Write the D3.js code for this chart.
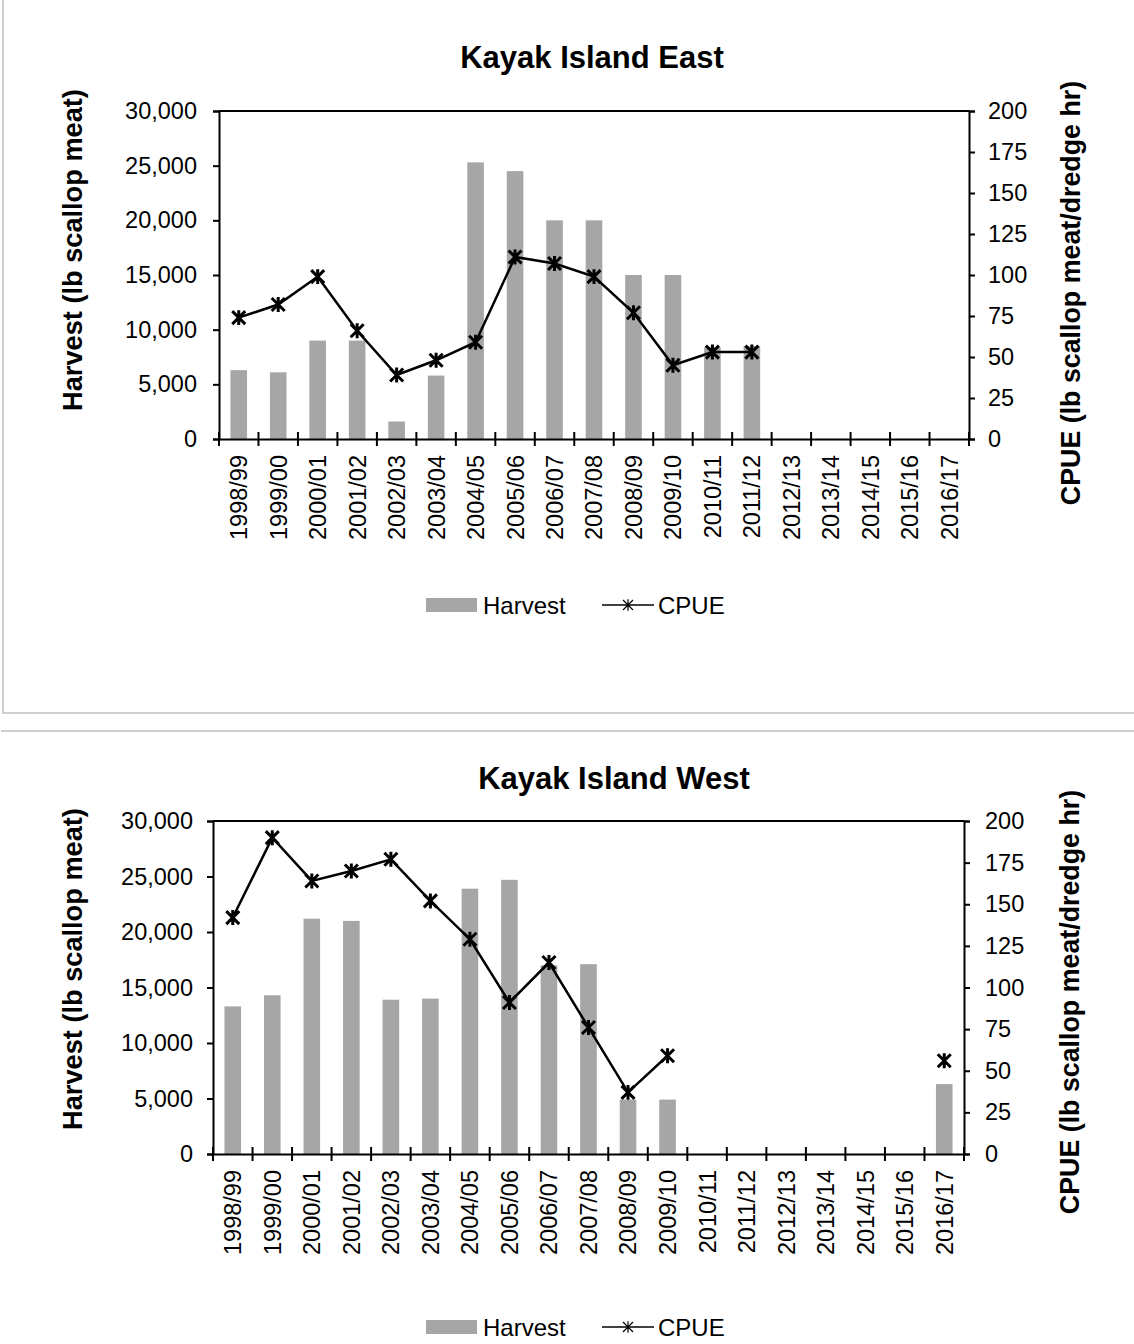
<!DOCTYPE html>
<html>
<head>
<meta charset="utf-8">
<script src="https://cdn.jsdelivr.net/npm/d3@7"></script>
<style>
  html, body { margin: 0; padding: 0; background: #fff; }
  svg { display: block; }
  text { font-family: "Liberation Sans", Arial, sans-serif; fill: #000; }
</style>
</head>
<body>
<svg id="chart" width="1134" height="1344"></svg>
<script>
// ---- Data ----
const seasons = ["1998/99","1999/00","2000/01","2001/02","2002/03","2003/04","2004/05","2005/06","2006/07","2007/08","2008/09","2009/10","2010/11","2011/12","2012/13","2013/14","2014/15","2015/16","2016/17"];

const eastTitle = "Kayak Island East";
const eastHarvest = [6300, 6100, 9000, 9000, 1600, 5800, 25300, 24500, 20000, 20000, 15000, 15000, 8400, 8500, null, null, null, null, null];
const eastCPUE    = [74, 82, 99, 66, 39, 48, 59, 111, 107, 99, 77, 45, 53, 53, null, null, null, null, null];

const westTitle = "Kayak Island West";
const westHarvest = [13300, 14300, 21200, 21000, 13900, 14000, 23900, 24700, 17000, 17100, 4900, 4900, null, null, null, null, null, null, 6300];
const westCPUE    = [142, 190, 164, 170, 177, 152, 129, 91, 115, 76, 37, 59, null, null, null, null, null, null, 56];

const harvestTicks = [0, 5000, 10000, 15000, 20000, 25000, 30000];
const cpueTicks = [0, 25, 50, 75, 100, 125, 150, 175, 200];

const leftAxisTitle = "Harvest (lb scallop meat)";
const rightAxisTitle = "CPUE (lb scallop meat/dredge hr)";
const legendLabels = ["Harvest", "CPUE"];

// ---- Drawing ----
const svg = d3.select("#chart");
const BAR = "#a6a6a6";

// panel borders
svg.append("path").attr("d", "M3,0 V713 H1134").attr("fill", "none").attr("stroke", "#c0c0c0").attr("stroke-width", 1.5);
svg.append("line").attr("x1", 1).attr("x2", 1134).attr("y1", 731).attr("y2", 731).attr("stroke", "#c0c0c0").attr("stroke-width", 1.5);

function star(g, x, y, r, sw) {
  const p = d3.path();
  p.moveTo(x - r, y - r); p.lineTo(x + r, y + r);
  p.moveTo(x - r, y + r); p.lineTo(x + r, y - r);
  p.moveTo(x, y - r * 1.15); p.lineTo(x, y + r * 1.15);
  g.append("path").attr("d", p.toString()).attr("stroke", "#000").attr("stroke-width", sw).attr("fill", "none");
}

function drawChart(cfg) {
  const g = svg.append("g");
  const xb = d3.scaleBand().domain(seasons).range([cfg.left, cfg.right]);
  const yL = d3.scaleLinear().domain([0, 30000]).range([cfg.bottom, cfg.top]);
  const yR = d3.scaleLinear().domain([0, 200]).range([cfg.bottom, cfg.top]);

  // title
  g.append("text").attr("x", cfg.titleX).attr("y", cfg.titleY)
    .attr("text-anchor", "middle").attr("font-weight", "bold").attr("font-size", 31)
    .text(cfg.title);

  // bars
  const hd = seasons.map((s, i) => ({ s, v: cfg.harvest[i] })).filter(d => d.v != null);
  g.selectAll("rect.bar").data(hd).join("rect").attr("class", "bar")
    .attr("x", d => xb(d.s) + xb.bandwidth() / 2 - 8.3)
    .attr("width", 16.6)
    .attr("y", d => yL(d.v))
    .attr("height", d => yL(0) - yL(d.v))
    .attr("fill", BAR);

  // plot frame (top)
  g.append("line").attr("x1", cfg.left).attr("x2", cfg.right).attr("y1", cfg.top).attr("y2", cfg.top)
    .attr("stroke", "#000").attr("stroke-width", 2);

  // left axis
  const axL = g.append("g").attr("transform", `translate(${cfg.left},0)`)
    .call(d3.axisLeft(yL).tickValues(harvestTicks).tickFormat(d3.format(",")).tickSize(6).tickPadding(cfg.lPad));
  axL.select(".domain").attr("stroke-width", 2);
  axL.selectAll(".tick line").attr("stroke-width", 2);
  axL.selectAll("text").attr("font-size", 23.5).attr("font-family", "Liberation Sans, Arial, sans-serif");

  // right axis
  const axR = g.append("g").attr("transform", `translate(${cfg.right},0)`)
    .call(d3.axisRight(yR).tickValues(cpueTicks).tickSize(6).tickPadding(cfg.rPad));
  axR.select(".domain").attr("stroke-width", 2);
  axR.selectAll(".tick line").attr("stroke-width", 2);
  axR.selectAll("text").attr("font-size", 23.5).attr("font-family", "Liberation Sans, Arial, sans-serif");

  // bottom axis
  const axB = g.append("g").attr("transform", `translate(0,${cfg.bottom})`)
    .call(d3.axisBottom(xb).tickSize(0).tickPadding(0));
  axB.select(".domain").attr("stroke-width", 2);
  axB.selectAll(".tick line").remove();
  axB.selectAll(".tick text")
    .attr("font-size", 23.5).attr("font-family", "Liberation Sans, Arial, sans-serif")
    .attr("transform", "rotate(-90)")
    .attr("text-anchor", "end")
    .attr("x", -16).attr("y", 0).attr("dy", "0.36em");
  // boundary ticks crossing the axis
  const bounds = seasons.map(s => xb(s)).concat([cfg.right]);
  g.selectAll("line.xt").data(bounds).join("line").attr("class", "xt")
    .attr("x1", d => d).attr("x2", d => d)
    .attr("y1", cfg.bottom - 7).attr("y2", cfg.bottom + 7)
    .attr("stroke", "#000").attr("stroke-width", 2);

  // CPUE line
  const cd = seasons.map((s, i) => ({ s, v: cfg.cpue[i] }));
  const line = d3.line().defined(d => d.v != null)
    .x(d => xb(d.s) + xb.bandwidth() / 2).y(d => yR(d.v));
  g.append("path").datum(cd).attr("d", line).attr("fill", "none").attr("stroke", "#000").attr("stroke-width", 2.5);
  cd.filter(d => d.v != null).forEach(d => star(g, xb(d.s) + xb.bandwidth() / 2, yR(d.v), 6.5, 3));

  // axis titles
  g.append("text").attr("transform", `translate(${cfg.lTitleX},${cfg.lTitleY}) rotate(-90)`)
    .attr("text-anchor", "middle").attr("dy", "0.35em").attr("font-weight", "bold").attr("font-size", 27.2)
    .text(leftAxisTitle);
  g.append("text").attr("transform", `translate(${cfg.rTitleX},${cfg.rTitleY}) rotate(-90)`)
    .attr("text-anchor", "middle").attr("dy", "0.35em").attr("font-weight", "bold").attr("font-size", 26.8)
    .text(rightAxisTitle);

  // legend
  const ly = cfg.legendY;
  g.append("rect").attr("x", 426).attr("y", ly - 7).attr("width", 51).attr("height", 14).attr("fill", BAR);
  g.append("text").attr("x", 483).attr("y", ly).attr("dy", "0.36em").attr("font-size", 24).text(legendLabels[0]);
  g.append("line").attr("x1", 602).attr("x2", 654).attr("y1", ly).attr("y2", ly).attr("stroke", "#000").attr("stroke-width", 1.5);
  star(g, 628, ly, 5, 1.2);
  g.append("text").attr("x", 658).attr("y", ly).attr("dy", "0.36em").attr("font-size", 24).text(legendLabels[1]);
}

drawChart({
  title: eastTitle, harvest: eastHarvest, cpue: eastCPUE,
  left: 219, right: 969, top: 111, bottom: 439,
  lPad: 16, rPad: 13,
  titleX: 592, titleY: 68,
  lTitleX: 72, lTitleY: 250,
  rTitleX: 1071, rTitleY: 293,
  legendY: 605
});

drawChart({
  title: westTitle, harvest: westHarvest, cpue: westCPUE,
  left: 213, right: 964, top: 821, bottom: 1154,
  lPad: 14, rPad: 15,
  titleX: 614, titleY: 789,
  lTitleX: 72, lTitleY: 969,
  rTitleX: 1070, rTitleY: 1002,
  legendY: 1327
});
</script>
</body>
</html>
